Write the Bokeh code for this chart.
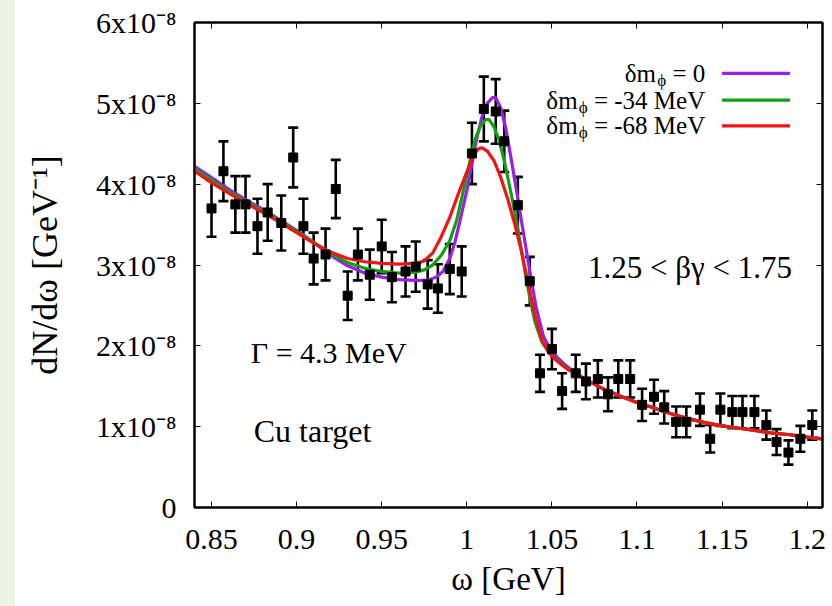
from bokeh.plotting import figure
from bokeh.models import (ColumnDataSource, Whisker, TeeHead, Label, LinearAxis,
                          FixedTicker, Range1d, Div)
from bokeh.layouts import row
from bokeh.embed import file_html
from bokeh.resources import INLINE

FONT = "Liberation Serif"

# ---- measured spectrum (dN/domega in units of 1e-8 GeV^-1) ----
omega = [0.850, 0.857, 0.864, 0.870, 0.877, 0.883, 0.891, 0.898, 0.904, 0.910,
         0.917, 0.923, 0.930, 0.936, 0.943, 0.950, 0.956, 0.964, 0.970, 0.977,
         0.983, 0.990, 0.997, 1.003, 1.010, 1.017, 1.022, 1.030, 1.037, 1.043,
         1.050, 1.056, 1.064, 1.070, 1.077, 1.083, 1.089, 1.096, 1.103, 1.110,
         1.116, 1.123, 1.129, 1.137, 1.143, 1.149, 1.156, 1.162, 1.169, 1.176,
         1.182, 1.189, 1.196, 1.203]
dndw = [3.70, 4.16, 3.75, 3.75, 3.48, 3.65, 3.52, 4.33, 3.48, 3.08,
        3.13, 3.94, 2.62, 3.13, 2.88, 3.23, 2.85, 2.92, 2.98, 2.76,
        2.71, 2.95, 2.92, 4.38, 4.93, 4.90, 4.53, 3.74, 2.80, 1.66,
        1.96, 1.44, 1.66, 1.56, 1.59, 1.40, 1.59, 1.59, 1.27, 1.37,
        1.24, 1.06, 1.06, 1.21, 0.85, 1.21, 1.18, 1.18, 1.18, 1.02,
        0.81, 0.68, 0.85, 1.02]
dndw_err = [0.35, 0.37, 0.35, 0.35, 0.34, 0.35, 0.34, 0.37, 0.34, 0.32,
            0.32, 0.36, 0.30, 0.32, 0.31, 0.33, 0.31, 0.31, 0.31, 0.30,
            0.30, 0.31, 0.31, 0.38, 0.40, 0.40, 0.38, 0.35, 0.30, 0.23,
            0.25, 0.22, 0.23, 0.22, 0.23, 0.21, 0.23, 0.23, 0.20, 0.21,
            0.20, 0.19, 0.19, 0.20, 0.17, 0.20, 0.20, 0.20, 0.20, 0.18,
            0.16, 0.15, 0.16, 0.18]

# ---- model curves for three phi mass shifts ----
tail_x = [1.070, 1.080, 1.090, 1.100, 1.110, 1.120, 1.130, 1.140, 1.150,
          1.160, 1.170, 1.180, 1.190, 1.200, 1.209]
tail_y = [1.58, 1.47, 1.38, 1.30, 1.23, 1.16, 1.10, 1.05, 1.01,
          0.98, 0.95, 0.92, 0.90, 0.87, 0.85]

curve0_x = [0.840, 0.850, 0.860, 0.870, 0.880, 0.890, 0.900, 0.910, 0.920,
            0.930, 0.940, 0.950, 0.960, 0.970, 0.977, 0.982, 0.986, 0.990,
            0.993, 0.996, 1.000, 1.003, 1.006, 1.009, 1.012, 1.015, 1.017,
            1.020, 1.023, 1.026, 1.029, 1.032, 1.035, 1.038, 1.041, 1.045,
            1.049, 1.053, 1.057, 1.061] + tail_x
curve0_y = [4.22, 4.08, 3.94, 3.81, 3.69, 3.56, 3.43, 3.28, 3.12,
            2.99, 2.90, 2.85, 2.82, 2.81, 2.81, 2.85, 2.92, 3.08,
            3.28, 3.55, 3.92, 4.25, 4.58, 4.84, 5.00, 5.07, 5.07,
            4.94, 4.68, 4.32, 3.95, 3.56, 3.18, 2.80, 2.45, 2.12,
            1.96, 1.86, 1.78, 1.71] + tail_y

curve34_x = [0.840, 0.850, 0.860, 0.870, 0.880, 0.890, 0.900, 0.910, 0.920,
             0.930, 0.940, 0.950, 0.960, 0.970, 0.975, 0.980, 0.985, 0.990,
             0.994, 0.998, 1.002, 1.005, 1.008, 1.011, 1.013, 1.016, 1.019,
             1.022, 1.025, 1.028, 1.031, 1.034, 1.037, 1.040, 1.044, 1.048,
             1.052, 1.056, 1.060] + tail_x
curve34_y = [4.19, 4.05, 3.91, 3.79, 3.67, 3.55, 3.42, 3.28, 3.14,
             3.03, 2.96, 2.92, 2.90, 2.91, 2.94, 3.00, 3.12, 3.30,
             3.55, 3.92, 4.30, 4.56, 4.72, 4.80, 4.80, 4.71, 4.54,
             4.29, 3.99, 3.68, 3.32, 2.94, 2.60, 2.30, 2.05, 1.93,
             1.84, 1.77, 1.71] + tail_y

curve68_x = [0.840, 0.850, 0.860, 0.870, 0.880, 0.890, 0.900, 0.910, 0.920,
             0.930, 0.940, 0.950, 0.960, 0.970, 0.975, 0.980, 0.985, 0.990,
             0.995, 1.000, 1.004, 1.007, 1.009, 1.012, 1.016, 1.020, 1.024,
             1.028, 1.032, 1.036, 1.040, 1.044, 1.048, 1.052, 1.056, 1.060] + tail_x
curve68_y = [4.16, 4.02, 3.89, 3.77, 3.65, 3.53, 3.40, 3.27, 3.16,
             3.08, 3.04, 3.02, 3.01, 3.02, 3.05, 3.15, 3.35, 3.59,
             3.88, 4.15, 4.36, 4.44, 4.45, 4.41, 4.29, 4.08, 3.82,
             3.52, 3.18, 2.78, 2.38, 2.08, 1.92, 1.83, 1.76, 1.70] + tail_y

x_ticks = [0.85, 0.90, 0.95, 1.00, 1.05, 1.10, 1.15, 1.20]
x_tick_labels = ["0.85", "0.9", "0.95", "1", "1.05", "1.1", "1.15", "1.2"]
y_ticks = [0, 1, 2, 3, 4, 5, 6]
y_tick_labels = ["0", "1x10\u207b\u2078", "2x10\u207b\u2078", "3x10\u207b\u2078",
                 "4x10\u207b\u2078", "5x10\u207b\u2078", "6x10\u207b\u2078"]

series_names = ["= 0", "= -34 MeV", "= -68 MeV"]
series_colors = ["#9a1ee6", "#12a012", "#f01414"]

X0, X1 = 0.84, 1.209
Y0, Y1 = 0.0, 6.0
STRIP = 15
W, H = 832 - STRIP, 606
BL, BR, BT, BB = 194 - STRIP, 10, 22, 99

p = figure(width=W, height=H, output_backend="svg", toolbar_location=None,
           x_range=Range1d(X0, X1), y_range=Range1d(Y0, Y1),
           min_border_left=BL, min_border_right=BR,
           min_border_top=BT, min_border_bottom=BB, margin=0)
p.grid.visible = False
p.background_fill_color = "white"
p.border_fill_color = "white"
p.outline_line_color = "black"
p.outline_line_width = 2

# bottom / left axes
p.xaxis.ticker = FixedTicker(ticks=x_ticks)
p.xaxis.major_label_overrides = dict(zip(x_ticks, x_tick_labels))
p.yaxis.ticker = FixedTicker(ticks=y_ticks)
p.yaxis.major_label_overrides = dict(zip(y_ticks, y_tick_labels))
for ax in (p.xaxis[0], p.yaxis[0]):
    ax.major_tick_in = 6
    ax.major_tick_out = 0
    ax.minor_tick_line_color = None
    ax.axis_line_width = 2
    ax.major_tick_line_width = 1
    ax.major_label_text_font = FONT
    ax.major_label_text_font_size = "30px"
    ax.major_label_text_color = "black"
    ax.axis_label_text_font = FONT
    ax.axis_label_text_font_style = "normal"
    ax.axis_label_text_color = "black"
p.xaxis.axis_label = "\u03c9 [GeV]"
p.xaxis.axis_label_text_font_size = "33px"
p.xaxis.major_label_standoff = 22
p.xaxis.axis_label_standoff = 9
p.yaxis.axis_label = "dN/d\u03c9 [GeV\u207b\u00b9]"
p.yaxis.axis_label_text_font_size = "36px"
p.yaxis.major_label_standoff = 18
p.yaxis.axis_label_standoff = 28

# mirrored ticks on top / right
for loc, ticks in (("above", x_ticks), ("right", y_ticks)):
    ax = LinearAxis(ticker=FixedTicker(ticks=ticks), major_tick_in=6,
                    major_tick_out=0, minor_tick_line_color=None,
                    major_label_text_color=None, major_label_standoff=0,
                    axis_line_width=2)
    p.add_layout(ax, loc)

# model curves (purple underneath, red on top)
curves = [(curve0_x, curve0_y), (curve34_x, curve34_y), (curve68_x, curve68_y)]
for (cx, cy), col in zip(curves, series_colors):
    p.line(cx, cy, line_color=col, line_width=3.2)

# data with error bars
src = ColumnDataSource(dict(
    x=omega, y=dndw,
    lo=[v - e for v, e in zip(dndw, dndw_err)],
    hi=[v + e for v, e in zip(dndw, dndw_err)]))
wh = Whisker(source=src, base="x", upper="hi", lower="lo", dimension="height",
             line_color="black", line_width=2.6,
             upper_head=TeeHead(size=10, line_width=2.6, line_color="black"),
             lower_head=TeeHead(size=10, line_width=2.6, line_color="black"))
p.add_layout(wh)
p.scatter("x", "y", source=src, marker="square", size=9,
          fill_color="black", line_color="black")

# key: text right-justified, line sample to its right
px_per_x = (W - BL - BR) / (X1 - X0)
px_per_y = (H - BT - BB) / (Y1 - Y0)
EM = {" ": 0.25, "=": 0.564, "-": 0.333, "M": 0.889, "e": 0.444, "V": 0.722}
EM.update({d: 0.5 for d in "0123456789"})


def text_width(s, size):
    return sum(EM.get(ch, 0.5) for ch in s) * size


key_right = 1.1401
key_line = (1.1500, 1.1899)
key_rows = [5.37, 5.04, 4.72]
KS = 25
for name, col, ky in zip(series_names, series_colors, key_rows):
    p.add_layout(Label(x=key_right, y=ky, text=name, text_align="right",
                       text_baseline="middle", text_font=FONT,
                       text_font_size=f"{KS}px", text_color="black"))
    xs = key_right - (text_width(name, KS) + 0.25 * KS) / px_per_x
    p.add_layout(Label(x=xs, y=ky - 7 / px_per_y, text="\u03d5", text_align="right",
                       text_baseline="middle", text_font=FONT,
                       text_font_size=f"{int(KS * 0.7)}px", text_color="black"))
    xm = xs - (0.52 * KS * 0.7 + 1) / px_per_x
    p.add_layout(Label(x=xm, y=ky, text="\u03b4m", text_align="right",
                       text_baseline="middle", text_font=FONT,
                       text_font_size=f"{KS}px", text_color="black"))
    p.line(list(key_line), [ky, ky], line_color=col, line_width=3.2)

# annotations
p.add_layout(Label(x=1.1911, y=2.97, text="1.25 < \u03b2\u03b3 < 1.75",
                   text_align="right", text_baseline="middle", text_font=FONT,
                   text_font_size="31px", text_color="black"))
p.add_layout(Label(x=0.8731, y=1.92, text="\u0393 = 4.3 MeV",
                   text_align="left", text_baseline="middle", text_font=FONT,
                   text_font_size="30px", text_color="black"))
p.add_layout(Label(x=0.8748, y=0.95, text="Cu target",
                   text_align="left", text_baseline="middle", text_font=FONT,
                   text_font_size="32px", text_color="black"))

strip = Div(width=STRIP, height=H, margin=0,
            styles={"background-color": "#edf2e2"})
layout = row(strip, p, spacing=0)

open("out.html", "w").write(file_html(layout, INLINE))
